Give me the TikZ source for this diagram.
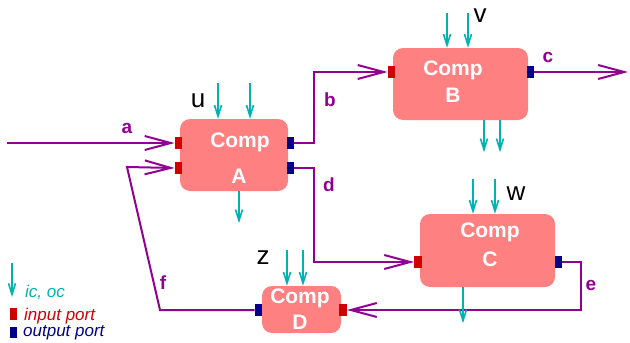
\documentclass[tikz,border=0pt]{standalone}
\usepackage{fontspec}
\setmainfont{Liberation Sans}
\usetikzlibrary{arrows.meta}
\definecolor{boxfill}{RGB}{255,128,128}
\definecolor{flowcol}{RGB}{145,0,145}
\definecolor{iccol}{RGB}{0,178,178}
\definecolor{inred}{RGB}{208,0,0}
\definecolor{outblue}{RGB}{0,0,140}
\tikzset{
  comp/.style={fill=boxfill, draw=none, rounded corners=10pt, inner sep=0pt},
  comptext/.style={text=white, font=\fontsize{21}{23}\selectfont\bfseries, inner sep=0pt},
  inport/.style={fill=inred, draw=none, minimum width=7.5pt, minimum height=11.5pt, inner sep=0pt},
  outport/.style={fill=outblue, draw=none, minimum width=7.5pt, minimum height=11.5pt, inner sep=0pt},
  flow/.style={draw=flowcol, line width=2pt, -{Straight Barb[length=26pt,width=14pt,line width=2pt]}},
  ic/.style={draw=iccol, line width=1.6pt, -{Straight Barb[length=11pt,width=7pt,line width=1.6pt]}},
  flowlab/.style={text=flowcol, font=\fontsize{19}{21}\selectfont\bfseries, inner sep=0pt},
  varlab/.style={text=black, font=\fontsize{26}{28}\selectfont, inner sep=0pt},
  legtext/.style={font=\fontsize{17}{19}\selectfont\itshape, inner sep=0pt, anchor=west},
}
\begin{document}
\begin{tikzpicture}[x=1pt,y=-1pt]
\useasboundingbox (0,0) rectangle (630,343);

% boxes
\node[comp, minimum width=108pt, minimum height=72pt] (A) at (234,155) {};
\node[comp, minimum width=135pt, minimum height=72pt] (B) at (460.5,84) {};
\node[comp, minimum width=135pt, minimum height=73pt] (C) at (487.5,250.5) {};
\node[comp, minimum width=79pt, minimum height=47pt] (D) at (301.5,309.5) {};

% box texts
\node[comptext] (At1) at (240,142) {Comp};
\node[comptext] (At2) at (239,176) {A};
\node[comptext] (Bt1) at (453,70) {Comp};
\node[comptext] (Bt2) at (453,95) {B};
\node[comptext] (Ct1) at (490,232) {Comp};
\node[comptext] (Ct2) at (490,259) {C};
\node[comptext] (Dt1) at (300,298) {Comp};
\node[comptext] (Dt2) at (300,322) {D};

% ports
\node[inport] (Ain1) at (178.5,143) {};
\node[inport] (Ain2) at (178.5,168) {};
\node[outport] (Aout1) at (290.5,143) {};
\node[outport] (Aout2) at (290.5,168) {};
\node[inport] (Bin) at (391.5,72) {};
\node[outport] (Bout) at (530.5,72) {};
\node[inport] (Cin) at (418,262) {};
\node[outport] (Cout) at (558.5,262) {};
\node[inport] (Din) at (343,310) {};
\node[outport] (Dout) at (258.5,310) {};

% free ends
\coordinate (aStart) at (7,143);
\coordinate (cEnd) at (628,72);

% flows
\draw[flow] (aStart) -- (Ain1.west);
\draw[flow] (Aout1.east) -- ++(20,0) |- (Bin.west);
\draw[flow] (Bout.east) -- (cEnd);
\draw[flow] (Aout2.east) -- ++(20,0) |- (Cin.west);
\draw[flow] (Cout.east) -- ++(19,0) |- (Din.east);
\draw[flow] (Dout.west) -- (160,310) -- (127,167) -- (Ain2.west);

% flow labels
\node[flowlab] (la) at (127,128) {a};
\node[flowlab] (lb) at (330,100) {b};
\node[flowlab] (lc) at (548,57) {c};
\node[flowlab] (ld) at (329,185) {d};
\node[flowlab] (le) at (591,285) {e};
\node[flowlab] (lf) at (163,283) {f};

% ic / oc arrows
\draw[ic] ([xshift=-16pt,yshift=36pt]A.north) -- ([xshift=-16pt]A.north);
\draw[ic] ([xshift=16pt,yshift=36pt]A.north) -- ([xshift=16pt]A.north);
\draw[ic] ([xshift=5pt]A.south) -- ([xshift=5pt,yshift=-32pt]A.south);

\draw[ic] ([xshift=-13.5pt,yshift=35pt]B.north) -- ([xshift=-13.5pt]B.north);
\draw[ic] ([xshift=7.5pt,yshift=35pt]B.north) -- ([xshift=7.5pt]B.north);
\draw[ic] ([xshift=23.5pt]B.south) -- ([xshift=23.5pt,yshift=-32pt]B.south);
\draw[ic] ([xshift=39.5pt]B.south) -- ([xshift=39.5pt,yshift=-32pt]B.south);

\draw[ic] ([xshift=-14.5pt,yshift=35pt]C.north) -- ([xshift=-14.5pt]C.north);
\draw[ic] ([xshift=7.5pt,yshift=35pt]C.north) -- ([xshift=7.5pt]C.north);
\draw[ic] ([xshift=-24.5pt]C.south) -- ([xshift=-24.5pt,yshift=-36pt]C.south);

\draw[ic] ([xshift=-14.5pt,yshift=36pt]D.north) -- ([xshift=-14.5pt]D.north);
\draw[ic] ([xshift=1.5pt,yshift=36pt]D.north) -- ([xshift=1.5pt]D.north);

% variable labels
\node[varlab] (lu) at (198,101) {u};
\node[varlab] (lv) at (480,16) {v};
\node[varlab] (lw) at (516,194) {w};
\node[varlab] (lz) at (263,258) {z};

% legend
\coordinate (legA) at (12,263);
\coordinate (legB) at (12,297);
\draw[ic] (legA) -- (legB);
\node[legtext, text=iccol] (legic) at (25,292) {ic, oc};
\node[inport, minimum height=12pt] (legin) at (13.5,314) {};
\node[legtext, text=inred] (legint) at (24,316) {input port};
\node[outport, minimum height=11pt] (legout) at (13.5,332) {};
\node[legtext, text=outblue] (legoutt) at (23,333) {output port};
\end{tikzpicture}
\end{document}
